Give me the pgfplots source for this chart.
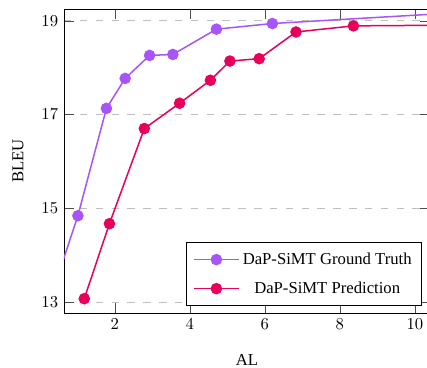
\documentclass[border=0pt]{standalone}
\usepackage{fontspec}
\setmainfont{Liberation Serif}
\usepackage{pgfplots}
\pgfplotsset{compat=1.18}
\usetikzlibrary{calc}
\definecolor{gtpurple}{RGB}{168,85,247}
\definecolor{predred}{RGB}{232,0,90}
\begin{document}
\begin{tikzpicture}
\begin{axis}[
  scale only axis,
  width=219.6pt, height=182.4pt,
  xmin=0.65, xmax=10.4,
  ymin=12.765, ymax=19.25,
  xtick={2,4,6,8,10},
  ytick={13,15,17,19},
  ymajorgrids,
  grid style={gray!50, dash pattern=on 4.5pt off 5pt},
  major tick length=6pt,
  tick style={black!70},
  xlabel={AL}, ylabel={BLEU},
  xlabel style={at={(axis description cs:0.5,-0.153)}, anchor=center},
  ylabel style={at={(axis description cs:-0.126,0.5)}, anchor=center},
  clip marker paths=true,
  legend style={at={(0.978,0.023)}, anchor=south east, draw=black, cells={anchor=center}, row sep=5pt, inner xsep=4pt, inner ysep=4pt},
  legend image code/.code={\draw[mark repeat=2,mark phase=2] plot coordinates {(0cm,0cm) (0.47cm,0cm) (0.94cm,0cm)};},
]
\addplot[color=gtpurple, line width=0.9pt, mark=*, mark size=3pt, mark options={fill=gtpurple, draw=gtpurple}]
coordinates {(0.5,13.58) (1.02,14.84) (1.78,17.13) (2.28,17.77) (2.93,18.26) (3.55,18.28) (4.71,18.82) (6.20,18.94) (10.9,19.16)};
\addlegendentry{DaP-SiMT Ground Truth}
\addplot[color=predred, line width=0.9pt, mark=*, mark size=3pt, mark options={fill=predred, draw=predred}]
coordinates {(1.19,13.07) (1.86,14.67) (2.79,16.70) (3.73,17.24) (4.55,17.73) (5.07,18.14) (5.85,18.19) (6.83,18.76) (8.36,18.89) (10.9,18.905)};
\addlegendentry{DaP-SiMT Prediction}
\end{axis}
\pgfresetboundingbox
\path[use as bounding box] ($(current axis.south west)+(-38.4pt,-32.4pt)$) rectangle ($(current axis.north west)+(217.8pt,5.4pt)$);
\end{tikzpicture}
\end{document}
